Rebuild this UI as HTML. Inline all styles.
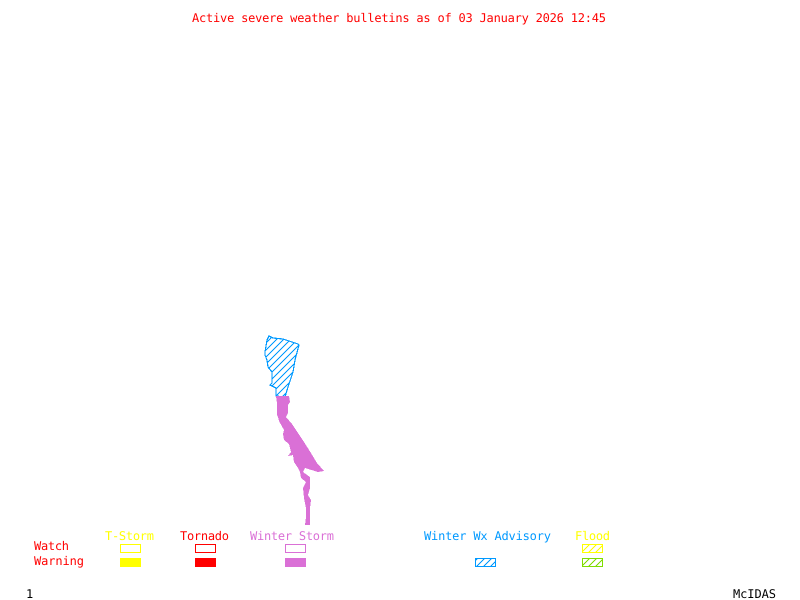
<!DOCTYPE html>
<html>
<head>
<meta charset="utf-8">
<style>
html,body{margin:0;padding:0;background:#fff;width:800px;height:600px;overflow:hidden}
svg{display:block}
text{font-family:"DejaVu Sans Mono","Liberation Mono",monospace;font-size:12px;text-rendering:geometricPrecision}
</style>
</head>
<body>
<svg xmlns="http://www.w3.org/2000/svg" width="800" height="600" viewBox="0 0 800 600">
<defs>
<pattern id="hb" width="7" height="7" patternUnits="userSpaceOnUse"><path d="M-1 8L8 -1M-1 1L1 -1M6 8L8 6" stroke="#0099ff" stroke-width="1" fill="none" shape-rendering="crispEdges"/></pattern>
<pattern id="hy" width="7" height="7" patternUnits="userSpaceOnUse"><path d="M-1 8L8 -1M-1 1L1 -1M6 8L8 6" stroke="#ffff00" stroke-width="1" fill="none" shape-rendering="crispEdges"/></pattern>
<pattern id="hg" width="7" height="7" patternUnits="userSpaceOnUse"><path d="M-1 8L8 -1M-1 1L1 -1M6 8L8 6" stroke="#7fdd00" stroke-width="1" fill="none" shape-rendering="crispEdges"/></pattern>
</defs>

<text x="192" y="22" fill="#ff0000" textLength="414" lengthAdjust="spacing">Active severe weather bulletins as of 03 January 2026 12:45</text>

<polygon points="269,336 267,340 265,352 265,355 267,360 268,367 272,372 272,383 270,385 276,388 276,396 285,397 288,387 293,372 295,360 299,345 298,344 283,339 273,338" fill="url(#hb)" stroke="#0099ff" stroke-width="1.2" shape-rendering="crispEdges"/>

<polygon shape-rendering="crispEdges" points="276,396 289,396 290,402 288,405 288,413 286,417 292,424 296,430 304,442 311,453 317,463 324,471 318,472 305,468 303,472 310,477 310,488 308,495 311,500 310,508 310,525 305,525 306,517 306,508 304,498 303,488 306,482 301,478 300,472 298,468 294,462 293,455 288,456 291,452 289,444 284,440 283,434 284,430 279,421 278,417 277,415 277,403" fill="#da70d6"/>

<text x="105" y="540" fill="#ffff00" textLength="49" lengthAdjust="spacing">T-Storm</text>
<text x="180" y="540" fill="#ff0000" textLength="49" lengthAdjust="spacing">Tornado</text>
<text x="250" y="540" fill="#da70d6" textLength="84" lengthAdjust="spacing">Winter Storm</text>
<text x="424" y="540" fill="#0099ff" textLength="127" lengthAdjust="spacing">Winter Wx Advisory</text>
<text x="575" y="540" fill="#ffff00" textLength="35" lengthAdjust="spacing">Flood</text>
<text x="34" y="550" fill="#ff0000" textLength="35" lengthAdjust="spacing">Watch</text>
<text x="34" y="565" fill="#ff0000" textLength="50" lengthAdjust="spacing">Warning</text>

<g shape-rendering="crispEdges">
<rect x="120.5" y="544.5" width="20" height="8" fill="none" stroke="#ffff00"/>
<rect x="120" y="558" width="21" height="9" fill="#ffff00"/>
<rect x="195.5" y="544.5" width="20" height="8" fill="none" stroke="#ff0000"/>
<rect x="195" y="558" width="21" height="9" fill="#ff0000"/>
<rect x="285.5" y="544.5" width="20" height="8" fill="none" stroke="#da70d6"/>
<rect x="285" y="558" width="21" height="9" fill="#da70d6"/>
<rect x="475.5" y="558.5" width="20" height="8" fill="url(#hb)" stroke="#0099ff"/>
<rect x="582.5" y="544.5" width="20" height="8" fill="url(#hy)" stroke="#ffff00"/>
<rect x="582.5" y="558.5" width="20" height="8" fill="url(#hg)" stroke="#7fdd00"/>
</g>

<text x="26" y="598" fill="#000000">1</text>
<text x="733" y="598" fill="#000000" textLength="43" lengthAdjust="spacing">McIDAS</text>
</svg>
</body>
</html>
